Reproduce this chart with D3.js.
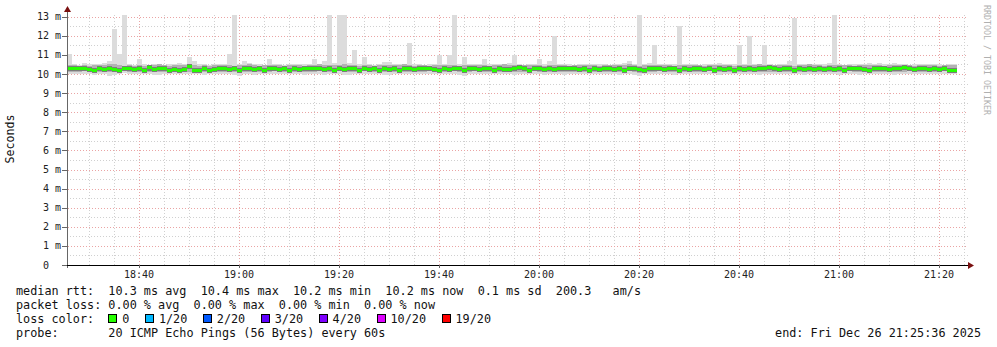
<!DOCTYPE html>
<html><head><meta charset="utf-8">
<script src="https://cdn.jsdelivr.net/npm/d3@7"></script>
<style>
body{margin:0;background:#fff}
text{font-family:"DejaVu Sans Mono",monospace;white-space:pre}
</style>
</head><body>
<svg id="chart" width="997" height="347"></svg>
<script>
// ---------- data (ms), one value per 60 s step, 18:25:36 .. 21:23:36 ----------
const maxRtt = [
11.05,10.5,10.45,10.6,10.55,10.5,10.55,10.6,10.7,12.35,11.05,13.1,10.5,10.45,10.8,10.5,10.45,10.5,10.5,10.45,
10.5,10.5,10.6,10.5,10.9,10.7,10.5,10.5,10.45,10.5,10.5,10.5,11.05,13.1,10.5,10.7,10.6,10.5,10.5,10.45,
10.8,10.5,10.5,10.45,10.5,10.5,10.55,10.5,10.5,10.8,10.5,10.7,13.1,10.6,13.1,13.1,10.6,11.25,10.5,10.9,
10.5,10.45,10.5,10.65,10.65,10.5,10.5,10.5,11.6,10.5,10.5,10.45,10.5,10.5,11.0,10.5,11.0,13.1,10.5,10.9,
10.5,10.5,10.5,10.8,10.5,10.55,10.5,10.5,10.6,11.0,10.5,10.45,10.5,10.5,10.8,10.5,10.7,12.0,10.5,10.5,
10.5,10.45,10.5,10.5,10.5,10.55,10.5,10.5,10.45,10.5,10.5,10.6,10.7,10.5,13.1,10.5,10.6,11.5,10.5,10.5,
10.55,10.5,12.5,10.5,10.5,10.5,10.45,10.5,10.5,10.5,10.6,10.5,10.5,10.5,11.5,10.5,12.0,10.5,10.5,11.5,
10.5,10.45,10.5,10.5,10.7,12.95,10.5,10.5,10.5,10.5,10.5,10.5,10.6,13.1,10.5,10.45,10.5,10.5,10.5,10.5,
10.6,10.5,10.6,10.5,10.5,10.6,10.5,10.5,10.45,10.5,10.5,10.5,10.5,10.5,10.5,10.45,10.5,10.5];
const minRtt = [
10.0,10.02,9.98,10.0,10.0,9.95,10.0,9.98,9.92,9.95,10.0,10.05,10.0,9.98,10.0,10.02,10.0,9.95,9.95,10.0,
10.0,10.02,10.0,10.0,9.98,10.0,10.0,9.95,10.0,10.02,10.0,10.0,10.02,9.95,9.92,10.0,10.0,9.95,10.0,10.0,
10.0,10.02,10.0,10.0,10.0,10.0,9.98,9.95,10.0,10.0,10.0,9.95,10.0,10.0,10.02,9.95,9.95,10.0,10.0,10.02,
10.0,10.0,10.02,9.95,9.95,10.0,10.02,10.0,10.0,10.0,9.98,10.0,10.02,10.0,10.0,10.0,10.0,10.02,9.95,9.92,
10.0,10.02,10.0,9.98,10.0,10.0,10.0,10.02,10.0,9.95,10.0,10.0,10.0,10.02,10.0,9.95,9.98,10.0,10.0,9.95,
10.0,10.0,10.0,10.0,10.02,10.0,9.98,10.0,10.0,10.0,9.95,10.0,10.02,9.95,9.92,10.0,10.0,10.0,10.02,10.0,
10.0,9.95,10.0,10.0,10.02,10.0,10.0,10.0,10.02,10.0,9.95,10.0,10.0,10.0,10.0,10.02,10.0,10.0,9.95,10.0,
10.0,10.0,10.02,9.98,10.0,10.0,10.0,9.95,10.0,10.0,10.0,9.98,10.0,9.98,9.95,10.0,10.02,10.0,9.95,10.0,
10.0,10.0,9.98,10.0,10.0,9.95,10.0,10.0,10.02,10.0,10.0,10.0,9.98,10.0,10.0,10.02,10.0,10.0];
const hiRtt = [
10.45,10.45,10.42,10.45,10.4,10.48,10.45,10.45,10.5,10.5,10.45,10.42,10.45,10.4,10.45,10.42,10.45,10.48,10.5,10.45,
10.42,10.45,10.45,10.48,10.5,10.45,10.4,10.45,10.42,10.45,10.45,10.48,10.45,10.42,10.45,10.45,10.5,10.45,10.42,10.45,
10.45,10.48,10.45,10.42,10.45,10.45,10.45,10.42,10.45,10.48,10.5,10.45,10.45,10.48,10.45,10.5,10.45,10.48,10.42,10.45,
10.45,10.42,10.45,10.45,10.48,10.45,10.45,10.5,10.45,10.42,10.45,10.45,10.42,10.45,10.45,10.48,10.45,10.45,10.42,10.45,
10.45,10.48,10.45,10.45,10.42,10.45,10.45,10.5,10.45,10.45,10.42,10.45,10.48,10.45,10.45,10.42,10.45,10.48,10.45,10.45,
10.42,10.45,10.45,10.48,10.45,10.45,10.42,10.45,10.45,10.45,10.48,10.45,10.5,10.45,10.42,10.45,10.45,10.48,10.45,10.45,
10.45,10.42,10.45,10.45,10.48,10.45,10.45,10.42,10.45,10.48,10.45,10.45,10.45,10.42,10.45,10.48,10.45,10.45,10.5,10.45,
10.42,10.45,10.45,10.48,10.45,10.42,10.45,10.45,10.5,10.45,10.45,10.42,10.45,10.45,10.48,10.45,10.45,10.42,10.45,10.45,
10.48,10.45,10.45,10.42,10.45,10.45,10.48,10.45,10.45,10.42,10.45,10.45,10.48,10.45,10.42,10.45,10.45,10.45];
const loRtt = [
10.12,10.12,10.1,10.15,10.12,10.08,10.12,10.1,10.1,10.08,10.12,10.15,10.12,10.1,10.12,10.15,10.12,10.08,10.1,10.12,
10.1,10.12,10.12,10.15,10.1,10.12,10.1,10.08,10.12,10.15,10.12,10.1,10.12,10.08,10.05,10.12,10.1,10.08,10.12,10.12,
10.12,10.15,10.12,10.1,10.12,10.12,10.1,10.08,10.12,10.12,10.15,10.08,10.12,10.12,10.15,10.08,10.1,10.12,10.12,10.15,
10.12,10.1,10.15,10.08,10.08,10.12,10.15,10.12,10.12,10.1,10.1,10.12,10.15,10.12,10.12,10.1,10.12,10.15,10.08,10.05,
10.12,10.15,10.12,10.1,10.12,10.12,10.1,10.15,10.12,10.08,10.12,10.1,10.12,10.15,10.12,10.08,10.1,10.12,10.12,10.08,
10.12,10.1,10.12,10.12,10.15,10.12,10.1,10.12,10.12,10.1,10.08,10.12,10.15,10.08,10.05,10.12,10.12,10.1,10.15,10.12,
10.12,10.08,10.12,10.1,10.15,10.12,10.12,10.1,10.15,10.12,10.08,10.12,10.12,10.1,10.12,10.15,10.12,10.1,10.08,10.12,
10.12,10.1,10.15,10.1,10.12,10.12,10.1,10.08,10.12,10.12,10.12,10.1,10.12,10.1,10.08,10.12,10.15,10.12,10.08,10.12,
10.12,10.1,10.1,10.12,10.12,10.08,10.12,10.1,10.15,10.12,10.12,10.1,10.1,10.12,10.12,10.15,10.12,10.12];
const medRtt = [
10.3,10.3,10.3,10.3,10.22,10.2,10.3,10.22,10.3,10.25,10.2,10.3,10.3,10.22,10.3,10.2,10.32,10.22,10.3,10.3,
10.2,10.22,10.2,10.22,10.38,10.2,10.2,10.3,10.2,10.25,10.3,10.3,10.22,10.3,10.2,10.3,10.3,10.22,10.3,10.2,
10.3,10.3,10.22,10.3,10.2,10.3,10.22,10.3,10.3,10.3,10.3,10.22,10.3,10.2,10.3,10.22,10.3,10.3,10.2,10.3,
10.22,10.3,10.2,10.3,10.22,10.3,10.2,10.3,10.3,10.22,10.3,10.3,10.3,10.22,10.2,10.3,10.25,10.3,10.3,10.2,
10.3,10.3,10.22,10.3,10.3,10.2,10.3,10.25,10.22,10.3,10.35,10.3,10.2,10.3,10.3,10.22,10.3,10.22,10.3,10.3,
10.3,10.3,10.22,10.3,10.2,10.3,10.22,10.3,10.3,10.22,10.3,10.2,10.3,10.3,10.22,10.2,10.3,10.3,10.3,10.22,
10.3,10.3,10.2,10.3,10.22,10.3,10.3,10.22,10.3,10.2,10.3,10.22,10.3,10.2,10.3,10.25,10.3,10.22,10.3,10.3,
10.35,10.3,10.22,10.3,10.3,10.2,10.3,10.22,10.3,10.25,10.3,10.22,10.3,10.22,10.3,10.2,10.3,10.3,10.3,10.22,
10.2,10.3,10.3,10.3,10.22,10.3,10.3,10.35,10.3,10.22,10.3,10.3,10.25,10.3,10.22,10.3,10.2,10.2];
const lossPct = medRtt.map(() => 0);   // packet loss per step (all 0 of 20)

const yTickValues = [0,1,2,3,4,5,6,7,8,9,10,11,12,13];
const yTickLabels = ["0  ","1 m","2 m","3 m","4 m","5 m","6 m","7 m","8 m","9 m","10 m","11 m","12 m","13 m"];
const lossLabels = ["0","1/20","2/20","3/20","4/20","10/20","19/20"];
const lossColors = ["#26ff00","#00b8ff","#0059ff","#5e00ff","#7e00ff","#dd00ff","#ff0000"];
const legendLines = [
  "median rtt:  10.3 ms avg  10.4 ms max  10.2 ms min  10.2 ms now  0.1 ms sd  200.3   am/s",
  "packet loss: 0.00 % avg  0.00 % max  0.00 % min  0.00 % now",
  "loss color:",
  "probe:       20 ICMP Echo Pings (56 Bytes) every 60s"
];
const endLabel = "end: Fri Dec 26 21:25:36 2025";

// ---------- layout ----------
const L = 67, R = 967, T = 15, B = 265;
const endTime = new Date(2025, 11, 26, 21, 25, 36);
const startTime = new Date(endTime.getTime() - 180 * 60000);
const stepT = i => new Date(startTime.getTime() + i * 60000);

const svg = d3.select("#chart");
const x = d3.scaleTime().domain([startTime, endTime]).range([L, R]);
const y = d3.scaleLinear().domain([0, 13.09]).range([B, T]);

// grid
const g = svg.append("g").attr("shape-rendering", "crispEdges");
const minorX = d3.timeMinute.every(5).range(startTime, endTime);
const majorX = d3.timeMinute.every(20).range(startTime, endTime);
g.selectAll(".vmin").data(minorX).join("line")
  .attr("x1", d => Math.round(x(d)) + 0.5).attr("x2", d => Math.round(x(d)) + 0.5)
  .attr("y1", T).attr("y2", B)
  .attr("stroke", "#d0d0d0").attr("stroke-dasharray", "1,2");
const minorY = d3.range(1, 27).map(d => d / 2).filter(d => d % 1 !== 0);
g.selectAll(".hmin").data(minorY).join("line")
  .attr("x1", L).attr("x2", R + 1)
  .attr("y1", d => Math.round(y(d)) + 0.5).attr("y2", d => Math.round(y(d)) + 0.5)
  .attr("stroke", "#d0d0d0").attr("stroke-dasharray", "1,2");
g.selectAll(".vmaj").data(majorX).join("line")
  .attr("x1", d => Math.round(x(d)) + 0.5).attr("x2", d => Math.round(x(d)) + 0.5)
  .attr("y1", T).attr("y2", B + 3)
  .attr("stroke", "#eaa4a4").attr("stroke-dasharray", "1,2");
g.selectAll(".hmaj").data(yTickValues.filter(d => d > 0)).join("line")
  .attr("x1", L - 5).attr("x2", R + 1)
  .attr("y1", d => Math.round(y(d)) + 0.5).attr("y2", d => Math.round(y(d)) + 0.5)
  .attr("stroke", "#eaa4a4").attr("stroke-dasharray", "1,2");

// smoke
const steps = d3.range(medRtt.length);
const dg = svg.append("g").attr("shape-rendering", "crispEdges");
function band(lo, hi, color) {
  dg.append("g").selectAll("rect").data(steps).join("rect")
    .attr("x", i => x(stepT(i))).attr("width", i => x(stepT(i + 1)) - x(stepT(i)))
    .attr("y", i => y(Math.min(hi[i], 13.09)))
    .attr("height", i => y(lo[i]) - y(Math.min(hi[i], 13.09)))
    .attr("fill", color);
}
band(minRtt, maxRtt, "#dcdcdc");
band(loRtt, hiRtt, "#b2b2b2");
const coreLo = medRtt.map(v => v - 0.14), coreHi = medRtt.map(v => v + 0.14);
band(coreLo, coreHi, "#7c7c7c");
// median, coloured by loss
const lossColor = p => p <= 0 ? lossColors[0] : p <= 5 ? lossColors[1] : p <= 10 ? lossColors[2] : p <= 15 ? lossColors[3] : p <= 20 ? lossColors[4] : p <= 50 ? lossColors[5] : lossColors[6];
dg.append("g").selectAll("rect").data(steps).join("rect")
  .attr("x", i => x(stepT(i))).attr("width", i => x(stepT(i + 1)) - x(stepT(i)))
  .attr("y", i => y(medRtt[i] + 0.08)).attr("height", i => y(medRtt[i] - 0.08) - y(medRtt[i] + 0.08))
  .attr("fill", i => lossColor(lossPct[i]));

// axes
const ax = svg.append("g").attr("shape-rendering", "crispEdges");
ax.append("line").attr("x1", L + 0.5).attr("x2", L + 0.5).attr("y1", 10).attr("y2", B + 3).attr("stroke", "#666");
ax.append("line").attr("x1", L - 5).attr("x2", R + 2).attr("y1", B + 0.5).attr("y2", B + 0.5).attr("stroke", "#000");
svg.append("path").attr("d", `M${L - 3},${12} L${L + 0.5},${6} L${L + 4},${12} Z`).attr("fill", "#7a1010");
svg.append("path").attr("d", `M${R + 1},${B - 3} L${R + 7},${B + 0.5} L${R + 1},${B + 4} Z`).attr("fill", "#7a1010");
ax.selectAll(".yt").data(yTickValues).join("line")
  .attr("x1", L - 5).attr("x2", L).attr("y1", d => Math.round(y(d)) + 0.5).attr("y2", d => Math.round(y(d)) + 0.5)
  .attr("stroke", "#666");
ax.selectAll(".xt").data(majorX).join("line")
  .attr("x1", d => Math.round(x(d)) + 0.5).attr("x2", d => Math.round(x(d)) + 0.5)
  .attr("y1", B).attr("y2", B + 3).attr("stroke", "#666");

svg.append("g").selectAll("text").data(yTickValues).join("text")
  .attr("x", 61).attr("y", d => y(d) + 3.5).attr("text-anchor", "end")
  .attr("font-size", "10px").attr("fill", "#222").text((d, i) => yTickLabels[i]);
svg.append("g").selectAll("text").data(majorX).join("text")
  .attr("x", d => x(d)).attr("y", 278).attr("text-anchor", "middle")
  .attr("font-size", "10px").attr("fill", "#222").text(d3.timeFormat("%H:%M"));

svg.append("text").attr("transform", "translate(14,139) rotate(-90)").attr("text-anchor", "middle")
  .attr("font-size", "11.6px").attr("fill", "#111").text("Seconds");
svg.append("text").attr("transform", "translate(984,5) rotate(90)").attr("text-anchor", "start")
  .attr("font-size", "8.3px").attr("fill", "#b0b0b0").text("RRDTOOL / TOBI OETIKER");

// legend
const lg = svg.append("g").attr("font-size", "11.8px").attr("fill", "#111");
lg.selectAll("text.l").data(legendLines).join("text")
  .attr("x", 16).attr("y", (d, i) => 295 + i * 14).text(d => d);
lg.append("text").attr("x", 981).attr("y", 337).attr("text-anchor", "end").text(endLabel);
const cw = 7.1;
let px = 16 + 13 * cw;
lossLabels.forEach((lab, i) => {
  lg.append("rect").attr("x", Math.round(px) + 0.5).attr("y", 314.5).attr("width", 8).attr("height", 8)
    .attr("fill", lossColors[i]).attr("stroke", "#000").attr("shape-rendering", "crispEdges");
  lg.append("text").attr("x", px + 14).attr("y", 323).text(lab);
  px = px + 14 + lab.length * cw + 15.5;
});
</script>
</body></html>
